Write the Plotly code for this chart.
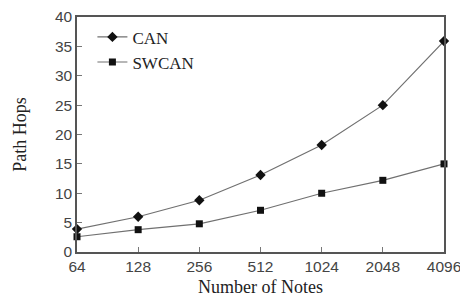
import plotly.graph_objects as go

nodes = ["64", "128", "256", "512", "1024", "2048", "4096"]
can = [3.9, 6.0, 8.8, 13.1, 18.2, 25.0, 35.9]
swcan = [2.6, 3.8, 4.8, 7.1, 10.0, 12.2, 15.0]
y_ticks = [0, 5, 10, 15, 20, 25, 30, 35, 40]

fig = go.Figure()
fig.add_trace(go.Scatter(x=nodes, y=can, name="CAN", mode="lines+markers",
                         line=dict(color="#707070", width=1.2),
                         marker=dict(symbol="diamond", size=8, color="#111"),
                         cliponaxis=False))
fig.add_trace(go.Scatter(x=nodes, y=swcan, name="SWCAN", mode="lines+markers",
                         line=dict(color="#707070", width=1.2),
                         marker=dict(symbol="square", size=7, color="#111"),
                         cliponaxis=False))

fig.update_layout(
    width=460, height=290,
    margin=dict(l=69, r=24, t=9, b=46, autoexpand=False),
    paper_bgcolor="white", plot_bgcolor="white",
    showlegend=True,
    legend=dict(x=0.042, y=0.99, xanchor="left", yanchor="top",
                font=dict(family="Liberation Serif", size=17, color="#222"),
                bgcolor="rgba(0,0,0,0)", tracegroupgap=0, itemwidth=30),
    xaxis=dict(type="category", range=[0, 6], showgrid=False, automargin=False,
               showline=True, linecolor="#555", linewidth=1.5, mirror=True,
               ticks="inside", ticklen=5, tickcolor="#777",
               tickfont=dict(family="Liberation Sans", size=15.5, color="#444"),
               title=dict(text="Number of Notes", standoff=6,
                          font=dict(family="Liberation Serif", size=18, color="#222"))),
    yaxis=dict(range=[0, 40], tickvals=y_ticks, showgrid=False, zeroline=False, automargin=False,
               showline=True, linecolor="#555", linewidth=1.5, mirror=True,
               ticks="inside", ticklen=5, tickcolor="#777", ticklabeloverflow="allow",
               tickfont=dict(family="Liberation Sans", size=15.5, color="#444"),
               title=dict(text="Path Hops", standoff=24,
                          font=dict(family="Liberation Serif", size=18, color="#222"))),
)

fig.write_html("out.html")
